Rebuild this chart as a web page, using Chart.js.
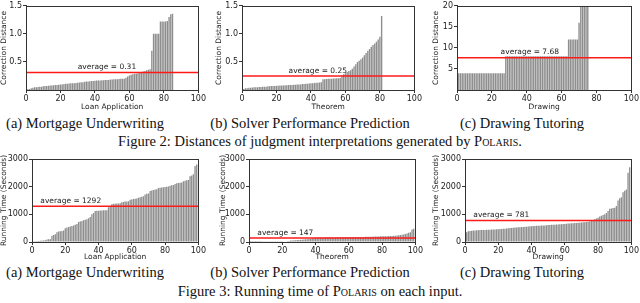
<!DOCTYPE html>
<html>
<head>
<meta charset="utf-8">
<script src="https://cdn.jsdelivr.net/npm/chart.js@4.4.1/dist/chart.umd.min.js"></script>
<style>
  body { margin: 0; background: #fff; width: 640px; height: 303px; position: relative; overflow: hidden; }
  canvas { position: absolute; }
  .cap { position: absolute; font-family: "Liberation Serif", "Times New Roman", serif; font-size: 14.5px;
         color: #111; white-space: nowrap; line-height: 16px; text-align: center; }
  .sc { font-variant: small-caps; }
</style>
</head>
<body>
<canvas id="distLoan" width="207" height="112" style="left:0px;top:0px"></canvas>
<canvas id="distTheorem" width="208" height="112" style="left:215px;top:0px"></canvas>
<canvas id="distDrawing" width="208" height="112" style="left:432px;top:0px"></canvas>
<canvas id="timeLoan" width="207" height="112" style="left:0px;top:150px"></canvas>
<canvas id="timeTheorem" width="205" height="112" style="left:219px;top:150px"></canvas>
<canvas id="timeDrawing" width="208" height="112" style="left:432px;top:150px"></canvas>

<div class="cap" style="left:-15px;width:200px;top:115px">(a) Mortgage Underwriting</div>
<div class="cap" style="left:210px;width:200px;top:115px">(b) Solver Performance Prediction</div>
<div class="cap" style="left:422px;width:200px;top:115px">(c) Drawing Tutoring</div>
<div class="cap" style="left:0px;width:640px;top:133px">Figure 2: Distances of judgment interpretations generated by P<span class="sc">olaris</span>.</div>
<div class="cap" style="left:-15px;width:200px;top:264px">(a) Mortgage Underwriting</div>
<div class="cap" style="left:210px;width:200px;top:264px">(b) Solver Performance Prediction</div>
<div class="cap" style="left:422px;width:200px;top:264px">(c) Drawing Tutoring</div>
<div class="cap" style="left:0px;width:640px;top:283px">Figure 3: Running time of P<span class="sc">olaris</span> on each input.</div>

<script>
// tick labels
const xTicks = [0, 20, 40, 60, 80, 100];
const distTicks = [0.5, 1.0, 1.5];
const drawDistTicks = [5, 10, 15, 20];
const timeTicks = [0, 1000, 2000, 3000];

// Figure 2: correction distance per input, sorted
const distLoan = [
  0.01, 0.015, 0.02, 0.03, 0.04, 0.05, 0.05, 0.055, 0.06, 0.06,
  0.065, 0.07, 0.07, 0.075, 0.08, 0.08, 0.085, 0.09, 0.09, 0.095,
  0.1, 0.1, 0.105, 0.11, 0.11, 0.115, 0.12, 0.12, 0.12, 0.125,
  0.13, 0.135, 0.14, 0.14, 0.145, 0.15, 0.15, 0.155, 0.16, 0.16,
  0.165, 0.17, 0.17, 0.17, 0.175, 0.175, 0.18, 0.18, 0.18, 0.185,
  0.185, 0.19, 0.19, 0.19, 0.195, 0.2, 0.2, 0.2, 0.22, 0.24,
  0.26, 0.27, 0.28, 0.29, 0.29, 0.3, 0.31, 0.32, 0.33, 0.34,
  0.35, 0.36, 0.37, 0.7, 1.0, 1.0, 1.0, 1.0, 1.22, 1.22,
  1.22, 1.22, 1.23, 1.3, 1.35, 1.36
];
const distTheorem = [
  0.01, 0.02, 0.03, 0.03, 0.04, 0.04, 0.045, 0.05, 0.05, 0.05,
  0.055, 0.055, 0.06, 0.06, 0.06, 0.065, 0.065, 0.07, 0.07, 0.07,
  0.075, 0.075, 0.08, 0.08, 0.08, 0.085, 0.085, 0.09, 0.09, 0.09,
  0.095, 0.095, 0.1, 0.1, 0.1, 0.105, 0.105, 0.11, 0.11, 0.115,
  0.12, 0.12, 0.125, 0.13, 0.13, 0.135, 0.14, 0.19, 0.19, 0.195,
  0.2, 0.2, 0.2, 0.205, 0.205, 0.21, 0.21, 0.215, 0.26, 0.28,
  0.3, 0.32, 0.34, 0.35, 0.38, 0.42, 0.46, 0.5, 0.52, 0.55,
  0.58, 0.62, 0.66, 0.7, 0.73, 0.77, 0.8, 0.83, 0.86, 0.9,
  0.95, 1.32
];
const distDrawing = [
  4, 4, 4, 4, 4, 4, 4, 4, 4, 4, 4, 4, 4, 4, 4, 4, 4, 4, 4, 4,
  4, 4, 4, 4, 4, 4, 4, 4,
  8, 8, 8, 8, 8, 8, 8, 8, 8, 8, 8, 8, 8, 8, 8, 8, 8, 8, 8, 8,
  8, 8, 8, 8, 8, 8, 8, 8, 8, 8, 8, 8, 8, 8, 8, 8,
  12, 12, 12, 12, 12, 12, 16, 20, 20, 20, 20, 20
];

// Figure 3: running time (seconds) per input, sorted
const timeLoan = [
  20, 25, 30, 35, 40, 45, 50, 55, 60, 90,
  95, 100, 230, 250, 280, 350, 380, 390, 400, 420,
  500, 520, 540, 560, 580, 600, 620, 650, 720, 740,
  760, 790, 800, 820, 860, 900, 1000, 1050, 1120, 1130,
  1130, 1140, 1140, 1150, 1150, 1150, 1260, 1300, 1360, 1380,
  1380, 1390, 1390, 1400, 1440, 1450, 1460, 1460, 1470, 1530,
  1540, 1550, 1560, 1570, 1600, 1620, 1640, 1650, 1720, 1740,
  1750, 1840, 1860, 1880, 1900, 1910, 1950, 1960, 1970, 1980,
  1990, 2000, 2010, 2030, 2050, 2060, 2100, 2120, 2130, 2140,
  2150, 2200, 2210, 2230, 2240, 2380, 2400, 2450, 2750, 2800
];
const timeTheorem = [
  2, 2, 3, 3, 3, 4, 4, 4, 5, 5,
  5, 6, 6, 6, 7, 7, 8, 8, 9, 10,
  12, 15, 20, 30, 40, 50, 55, 60, 65, 70,
  75, 80, 85, 90, 95, 100, 110, 120, 140, 145,
  150, 150, 152, 155, 155, 158, 160, 160, 162, 162,
  165, 166, 167, 168, 169, 170, 171, 172, 173, 174,
  175, 176, 177, 178, 179, 180, 181, 182, 184, 185,
  186, 188, 190, 192, 194, 196, 198, 200, 202, 204,
  206, 208, 210, 212, 214, 216, 220, 225, 230, 235,
  240, 250, 260, 270, 290, 310, 330, 350, 450, 480
];
const timeDrawing = [
  330, 350, 390, 400, 410, 420, 420, 425, 425, 430,
  430, 435, 435, 440, 440, 445, 450, 450, 455, 460,
  465, 470, 470, 475, 480, 490, 500, 505, 510, 515,
  520, 525, 530, 535, 540, 545, 550, 555, 560, 565,
  570, 575, 580, 585, 590, 590, 595, 600, 600, 605,
  610, 615, 620, 620, 625, 630, 635, 640, 645, 650,
  655, 660, 665, 670, 675, 680, 685, 690, 695, 700,
  705, 710, 715, 720, 730, 740, 760, 790, 820, 850,
  880, 920, 950, 980, 1000, 1050, 1120, 1200, 1210, 1230,
  1240, 1300, 1500, 1580, 1620, 1800, 1850, 1900, 2500, 2700
];

// averages as printed on the figure
const distAverages = [0.31, 0.25, 7.68];
const timeAverages = [1292, 147, 781];

const tickFont = { family: 'DejaVu Sans', size: 8 };
const titleFont = { family: 'DejaVu Sans', size: 7.5 };
const inkColor = '#222';
const spineColor = '#333';

function drawChart(id, vals, avg, avgText, labelX, yMax, yTicks, yTitle, xTitle, yW, xH, padTop) {
  const bars = vals.map((v, i) => ({ x: i, y: v }));

  // box around the plot, like matplotlib spines
  const frame = {
    id: 'frame',
    afterDraw: function(chart) {
      const a = chart.chartArea;
      const ctx = chart.ctx;
      ctx.save();
      ctx.strokeStyle = spineColor;
      ctx.lineWidth = 1;
      ctx.strokeRect(Math.round(a.left) + 0.5, Math.round(a.top) + 0.5,
        Math.round(a.right - a.left), Math.round(a.bottom - a.top));
      ctx.restore();
    }
  };

  // "average = ..." text sitting on the red line
  const avgLabel = {
    id: 'avgLabel',
    afterDraw: function(chart) {
      const ctx = chart.ctx;
      const xs = chart.scales.x, ys = chart.scales.y;
      ctx.save();
      ctx.font = '7.5px "DejaVu Sans"';
      ctx.fillStyle = inkColor;
      ctx.textAlign = 'left';
      ctx.textBaseline = 'bottom';
      ctx.fillText(avgText, xs.getPixelForValue(labelX), ys.getPixelForValue(avg) - 1.5);
      ctx.restore();
    }
  };

  new Chart(document.getElementById(id), {
    type: 'bar',
    data: {
      datasets: [
        { type: 'line', data: [{ x: 0, y: avg }, { x: 100, y: avg }], borderColor: '#ff1a1a',
          borderWidth: 1.5, pointRadius: 0, order: 0 },
        { type: 'bar', data: bars, backgroundColor: '#8e8e8e', barPercentage: 1,
          categoryPercentage: 0.8, order: 1 }
      ]
    },
    options: {
      responsive: false,
      animation: false,
      devicePixelRatio: 1,
      layout: { padding: { top: padTop, right: 8, left: 0, bottom: 0 } },
      plugins: { legend: { display: false }, tooltip: { enabled: false } },
      scales: {
        x: {
          type: 'linear', min: 0, max: 100, offset: false,
          afterFit: function(s) { s.height = xH; },
          afterBuildTicks: function(s) { s.ticks = xTicks.map(v => ({ value: v })); },
          ticks: { font: tickFont, color: inkColor, padding: 1, maxRotation: 0 },
          grid: { drawOnChartArea: false, tickLength: 3, color: spineColor, offset: false },
          border: { color: spineColor },
          title: { display: true, text: xTitle, font: titleFont, color: inkColor, padding: 0 }
        },
        y: {
          min: 0, max: yMax,
          afterFit: function(s) { s.width = yW; },
          afterBuildTicks: function(s) { s.ticks = yTicks.map(v => ({ value: v })); },
          ticks: {
            font: tickFont, color: inkColor, padding: 1,
            callback: function(v) { return yMax < 5 ? v.toFixed(1) : String(v); }
          },
          grid: { drawOnChartArea: false, tickLength: 3, color: spineColor },
          border: { color: spineColor },
          title: { display: true, text: yTitle, font: titleFont, color: inkColor, padding: 0 }
        }
      }
    },
    plugins: [frame, avgLabel]
  });
}

drawChart('distLoan', distLoan, distAverages[0], 'average = 0.31', 30, 1.5, distTicks,
  'Correction Distance', 'Loan Application', 26, 22, 4);
drawChart('distTheorem', distTheorem, distAverages[1], 'average = 0.25', 27, 1.5, distTicks,
  'Correction Distance', 'Theorem', 27, 22, 4);
drawChart('distDrawing', distDrawing, distAverages[2], 'average = 7.68', 25, 20, drawDistTicks,
  'Correction Distance', 'Drawing', 25, 22, 3);
drawChart('timeLoan', timeLoan, timeAverages[0], 'average = 1292', 5, 3000, timeTicks,
  'Running Time (Seconds)', 'Loan Application', 32, 20, 9);
drawChart('timeTheorem', timeTheorem, timeAverages[1], 'average = 147', 5, 3000, timeTicks,
  'Running Time (Seconds)', 'Theorem', 30, 20, 9);
drawChart('timeDrawing', timeDrawing, timeAverages[2], 'average = 781', 5, 3000, timeTicks,
  'Running Time (Seconds)', 'Drawing', 33, 20, 9);
</script>
</body>
</html>
